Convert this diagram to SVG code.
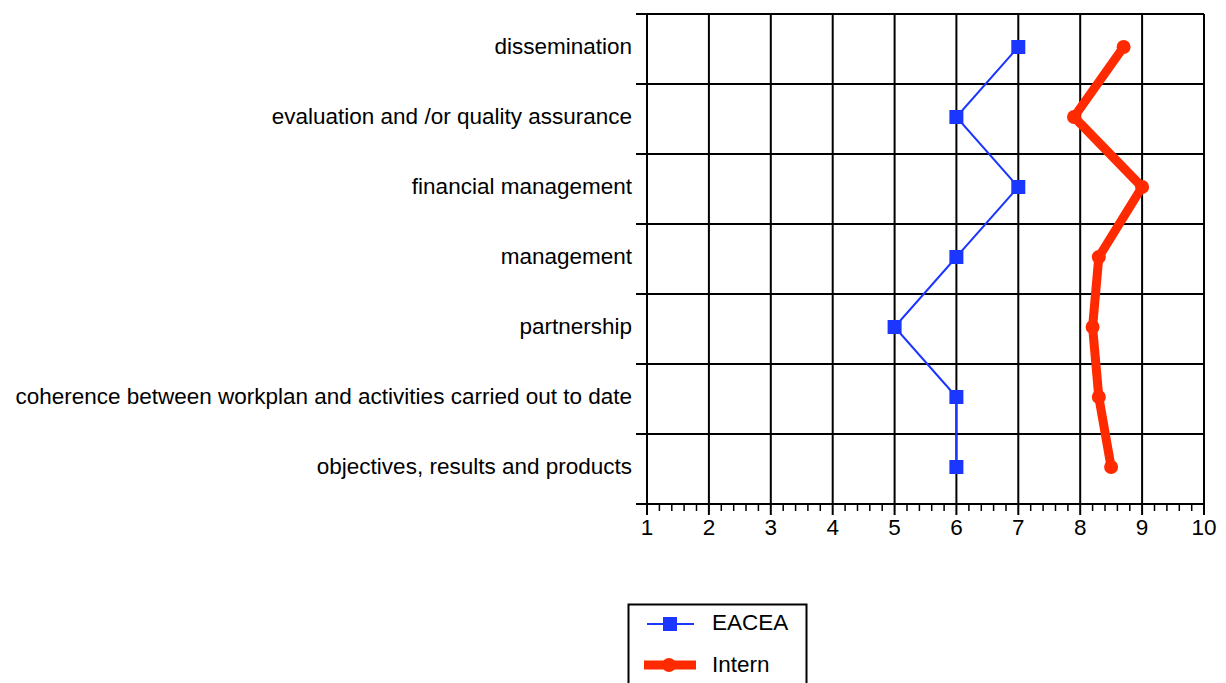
<svg xmlns="http://www.w3.org/2000/svg" width="1226" height="683" viewBox="0 0 1226 683">
<style>
.grid{stroke:#000;stroke-width:2;fill:none}
.tick{stroke:#000;stroke-width:1.5}
.lbl{font-family:"Liberation Sans",Arial,sans-serif;font-size:22.5px;fill:#000}
.cat{text-anchor:end}
.num{text-anchor:middle}
.eacea{stroke:#1a36ff;stroke-width:2;fill:none}
.intern{stroke:#ff2a00;stroke-width:9;fill:none;stroke-linejoin:round;stroke-linecap:round}
.sq{fill:#1a36ff}
.dot{fill:#ff2a00}
</style>
<rect width="1226" height="683" fill="#fff"/>
<g id="grid">
<path class="grid" d="M636 14H1204M636 84H1204M636 154H1204M636 224H1204M636 294H1204M636 364H1204M636 434H1204M636 504H1204"/>
<path class="grid" d="M647 14V515M708.9 14V515M770.8 14V515M832.7 14V515M894.6 14V515M956.4 14V515M1018.3 14V515M1080.2 14V515M1142.1 14V515M1204 14V515"/>
<path class="tick" d="M659.4 504v7M671.8 504v7M684.1 504v7M696.5 504v7M721.3 504v7M733.7 504v7M746 504v7M758.4 504v7M783.2 504v7M795.6 504v7M807.9 504v7M820.3 504v7M845.1 504v7M857.5 504v7M869.8 504v7M882.2 504v7M907 504v7M919.4 504v7M931.7 504v7M944.1 504v7M968.9 504v7M981.3 504v7M993.6 504v7M1006 504v7M1030.7 504v7M1043.1 504v7M1055.5 504v7M1067.9 504v7M1092.6 504v7M1105 504v7M1117.4 504v7M1129.8 504v7M1154.5 504v7M1166.9 504v7M1179.3 504v7M1191.7 504v7"/>
</g>
<g id="category-labels" class="lbl cat">
<text x="632" y="53.5">dissemination</text>
<text x="632" y="123.5">evaluation and /or quality assurance</text>
<text x="632" y="193.5">financial management</text>
<text x="632" y="263.5">management</text>
<text x="632" y="333.5">partnership</text>
<text x="632" y="403.5">coherence between workplan and activities carried out to date</text>
<text x="632" y="473.5">objectives, results and products</text>
</g>
<g id="axis-labels" class="lbl num">
<text x="647" y="535">1</text>
<text x="708.9" y="535">2</text>
<text x="770.8" y="535">3</text>
<text x="832.7" y="535">4</text>
<text x="894.6" y="535">5</text>
<text x="956.4" y="535">6</text>
<text x="1018.3" y="535">7</text>
<text x="1080.2" y="535">8</text>
<text x="1142.1" y="535">9</text>
<text x="1204" y="535">10</text>
</g>
<g id="connectors">
<polyline class="eacea" points="1018.3,47 956.4,117 1018.3,187 956.4,257 894.6,327 956.4,397 956.4,467"/>
<polyline class="intern" points="1123.6,47 1074,117 1142.1,187 1098.8,257 1092.6,327 1098.8,397 1111.1,467"/>
</g>
<g id="eacea-markers">
<rect class="sq" x="1011.3" y="40" width="14" height="14"/>
<rect class="sq" x="949.4" y="110" width="14" height="14"/>
<rect class="sq" x="1011.3" y="180" width="14" height="14"/>
<rect class="sq" x="949.4" y="250" width="14" height="14"/>
<rect class="sq" x="887.6" y="320" width="14" height="14"/>
<rect class="sq" x="949.4" y="390" width="14" height="14"/>
<rect class="sq" x="949.4" y="460" width="14" height="14"/>
</g>
<g id="intern-markers">
<circle class="dot" cx="1123.6" cy="47" r="7"/>
<circle class="dot" cx="1074" cy="117" r="7"/>
<circle class="dot" cx="1142.1" cy="187" r="7"/>
<circle class="dot" cx="1098.8" cy="257" r="7"/>
<circle class="dot" cx="1092.6" cy="327" r="7"/>
<circle class="dot" cx="1098.8" cy="397" r="7"/>
<circle class="dot" cx="1111.1" cy="467" r="7"/>
</g>
<g id="legend">
<rect x="628.5" y="604.5" width="178" height="90" fill="#fff" stroke="#000" stroke-width="2"/>
<line class="eacea" x1="647" y1="624" x2="694" y2="624"/>
<rect class="sq" x="663" y="617" width="14" height="14"/>
<text class="lbl" x="712" y="630">EACEA</text>
<line x1="644" y1="665" x2="696" y2="665" stroke="#ff2a00" stroke-width="9"/>
<circle class="dot" cx="669" cy="665" r="7"/>
<text class="lbl" x="712" y="671.5">Intern</text>
</g>
</svg>
